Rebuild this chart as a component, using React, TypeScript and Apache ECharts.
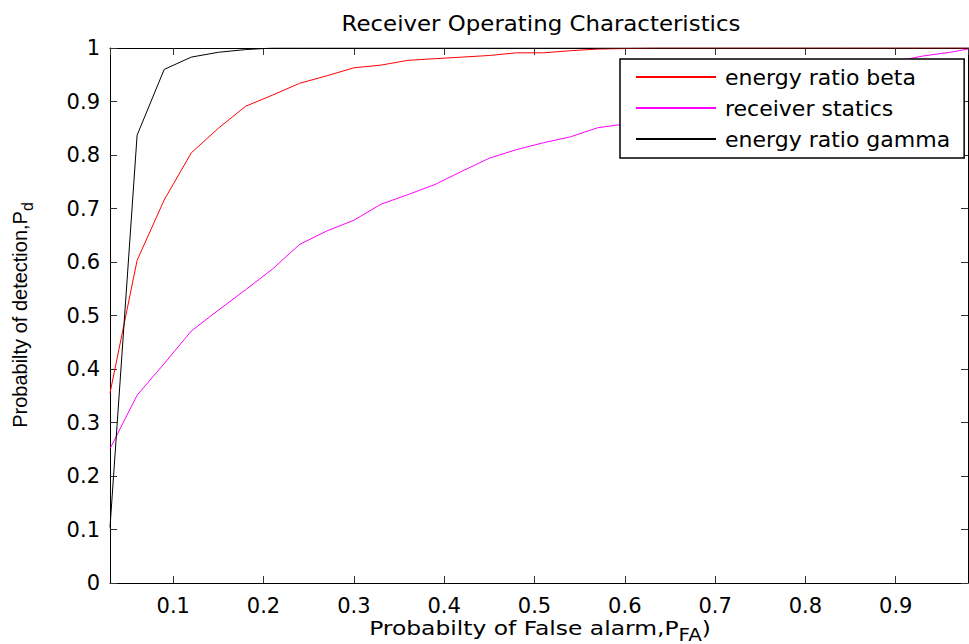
import React, { useEffect, useRef } from 'react';
import * as echarts from 'echarts';

const xValues = [0.03, 0.06, 0.09, 0.12, 0.15, 0.18, 0.21, 0.24, 0.27, 0.30, 0.33, 0.36, 0.39, 0.42, 0.45, 0.48, 0.51, 0.54, 0.57, 0.60, 0.63, 0.66, 0.69, 0.72, 0.75, 0.78, 0.81, 0.84, 0.87, 0.90, 0.93, 0.96, 0.98];

const energyRatioBeta = [0.355, 0.603, 0.716, 0.804, 0.850, 0.891, 0.912, 0.934, 0.948, 0.963, 0.968, 0.977, 0.980, 0.983, 0.986, 0.991, 0.991, 0.995, 0.998, 0.999, 1, 1, 1, 1, 1, 1, 1, 1, 1, 1, 1, 1, 1];

const receiverStatics = [0.251, 0.351, 0.410, 0.471, 0.510, 0.548, 0.587, 0.633, 0.658, 0.678, 0.708, 0.726, 0.745, 0.770, 0.794, 0.810, 0.823, 0.834, 0.851, 0.858, 0.870, 0.885, 0.900, 0.912, 0.924, 0.935, 0.946, 0.956, 0.966, 0.975, 0.985, 0.992, 0.998];

const energyRatioGamma = [0.104, 0.837, 0.960, 0.983, 0.992, 0.997, 1, 1, 1, 1, 1, 1, 1, 1, 1, 1, 1, 1, 1, 1, 1, 1, 1, 1, 1, 1, 1, 1, 1, 1, 1, 1, 1];

const seriesNames = ['energy ratio beta', 'receiver statics', 'energy ratio gamma'];
const seriesColors = ['#ff0000', '#ff00ff', '#000000'];

const titleText = 'Receiver Operating Characteristics';
const xLabelMain = 'Probabilty of False alarm,P';
const xLabelSub = 'FA';
const xLabelTail = ')';
const yLabelMain = 'Probabilty of detection,P';
const yLabelSub = 'd';

const FONT = 'DejaVu Sans';

export default function App() {
  const ref = useRef<HTMLDivElement>(null);

  useEffect(() => {
    if (!ref.current) return;
    const chart = echarts.init(ref.current, null, { renderer: 'svg' });
    const allSeries = [energyRatioBeta, receiverStatics, energyRatioGamma];

    const axisCommonX = {
      type: 'value',
      min: 0.03,
      max: 0.98,
      splitNumber: 10,
      splitLine: { show: false },
      axisLine: { show: true, onZero: false, lineStyle: { color: '#000', width: 1 } },
      axisTick: { show: true, inside: true, length: 7, lineStyle: { color: '#333', width: 1 } },
    };
    const axisCommonY = {
      type: 'value',
      min: 0,
      max: 1,
      interval: 0.1,
      splitLine: { show: false },
      axisLine: { show: true, onZero: false, lineStyle: { color: '#000', width: 1 } },
      axisTick: { show: true, inside: true, length: 7, lineStyle: { color: '#333', width: 1 } },
    };

    chart.setOption({
      animation: false,
      backgroundColor: '#ffffff',
      grid: { left: 110, right: 1, top: 48, bottom: 61, containLabel: false },
      xAxis: [
        {
          ...axisCommonX,
          position: 'bottom',
          axisLabel: {
            show: true,
            showMinLabel: false,
            showMaxLabel: false,
            margin: 12,
            color: '#000',
            fontFamily: FONT,
            fontSize: 21,
          },
        },
        {
          ...axisCommonX,
          position: 'top',
          axisLabel: { show: false },
        },
      ],
      yAxis: [
        {
          ...axisCommonY,
          position: 'left',
          axisLabel: {
            show: true,
            margin: 10,
            color: '#000',
            fontFamily: FONT,
            fontSize: 21,
          },
        },
        {
          ...axisCommonY,
          position: 'right',
          axisLabel: { show: false },
        },
      ],
      legend: {
        orient: 'vertical',
        left: 620,
        top: 59,
        padding: [7, 14, 8, 16],
        itemGap: 9,
        itemWidth: 80,
        itemHeight: 2,
        icon: 'rect',
        borderColor: '#000',
        borderWidth: 1.5,
        backgroundColor: '#ffffff',
        borderRadius: 0,
        textStyle: {
          color: '#000',
          fontFamily: FONT,
          fontSize: 22,
          lineHeight: 21,
          padding: [0, 0, 0, 4],
        },
        data: seriesNames,
      },
      series: allSeries.map((vals, i) => ({
        name: seriesNames[i],
        type: 'line',
        xAxisIndex: 0,
        yAxisIndex: 0,
        data: xValues.map((x, j) => [x, vals[j]]),
        showSymbol: false,
        symbol: 'none',
        lineStyle: { color: seriesColors[i], width: 1 },
        itemStyle: { color: seriesColors[i] },
        z: 3,
      })),
      graphic: [
        {
          type: 'text',
          x: 541,
          y: 24,
          scaleX: 1.09,
          style: {
            text: titleText,
            fill: '#000',
            fontFamily: FONT,
            fontSize: 21,
            align: 'center',
            verticalAlign: 'middle',
          },
        },
        {
          type: 'text',
          x: 540,
          y: 628,
          scaleX: 1.17,
          style: {
            text: `{a|${xLabelMain}}{s|${xLabelSub}}{a|${xLabelTail}}`,
            align: 'center',
            verticalAlign: 'middle',
            fill: '#000',
            rich: {
              a: { fontFamily: FONT, fontSize: 20, fill: '#000', lineHeight: 22 },
              s: { fontFamily: FONT, fontSize: 17, fill: '#000', lineHeight: 18, padding: [14, 0, 0, 0] },
            },
          },
        },
        {
          type: 'text',
          x: 20,
          y: 315,
          rotation: Math.PI / 2,
          style: {
            text: `{a|${yLabelMain}}{s|${yLabelSub}}`,
            align: 'center',
            verticalAlign: 'middle',
            fill: '#000',
            rich: {
              a: { fontFamily: 'Liberation Sans', fontSize: 20, fill: '#000', lineHeight: 22 },
              s: { fontFamily: 'Liberation Sans', fontSize: 16, fill: '#000', lineHeight: 18, padding: [14, 0, 0, 0] },
            },
          },
        },
      ],
    });

    return () => chart.dispose();
  }, []);

  return (
    <div
      ref={ref}
      style={{ position: 'fixed', left: 0, top: 0, width: 969, height: 644, background: '#fff' }}
    />
  );
}
